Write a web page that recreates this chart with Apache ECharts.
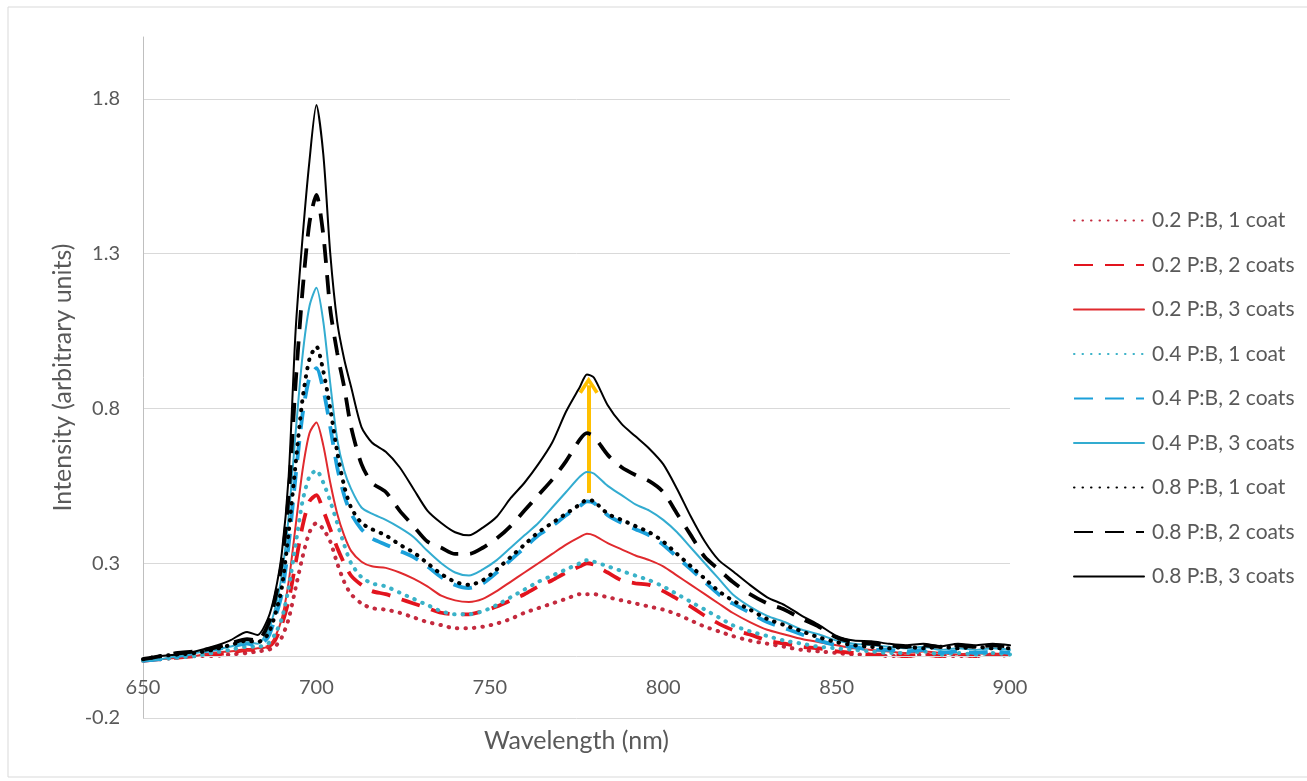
<!DOCTYPE html>
<html>
<head>
<meta charset="utf-8">
<script src="https://cdn.jsdelivr.net/npm/echarts@6/dist/echarts.min.js"></script>
<style>
html,body{margin:0;padding:0;background:#fff;}
#chart{width:1307px;height:781px;}
</style>
</head>
<body>
<div id="chart"></div>
<script>
// ---- data ----
const wavelength = [
  650,655,660,665,670,675,680,683,
  686,688,690,692,694,696,698,700,702,704,706,708,710,
  713,716,720,724,728,732,736,740,
  744,748,752,756,760,764,768,772,776,778,
  780,784,788,792,796,800,804,808,812,816,820,825,
  830,835,840,845,850,855,860,865,870,875,880,885,890,895,900
];
const s02c1 = [
  -0.015,-0.01,-0.005,0.0,0.0,0.005,0.01,0.015,
  0.02,0.03,0.06,0.12,0.22,0.32,0.4,0.43,0.41,0.37,0.3,0.24,0.2,
  0.17,0.155,0.15,0.14,0.125,0.11,0.1,0.09,
  0.09,0.095,0.105,0.12,0.14,0.155,0.17,0.185,0.2,0.2,
  0.2,0.19,0.18,0.17,0.16,0.15,0.135,0.115,0.095,0.08,0.065,0.05,
  0.04,0.03,0.02,0.015,0.01,0.005,0.005,0.0,0.0,0.005,0.0,0.0,0.0,0.005,0.0
];
const s02c2 = [
  -0.015,-0.01,-0.005,0.0,0.005,0.01,0.02,0.02,
  0.03,0.05,0.1,0.18,0.3,0.42,0.5,0.52,0.47,0.41,0.35,0.3,0.26,
  0.23,0.21,0.2,0.185,0.17,0.155,0.14,0.135,
  0.135,0.145,0.16,0.18,0.2,0.225,0.245,0.27,0.29,0.3,
  0.295,0.27,0.245,0.235,0.23,0.21,0.185,0.16,0.13,0.105,0.085,0.07,
  0.05,0.04,0.03,0.025,0.015,0.01,0.005,0.005,0.0,0.005,0.0,0.005,0.0,0.005,0.005
];
const s02c3 = [
  -0.015,-0.01,-0.005,0.0,0.01,0.015,0.02,0.025,
  0.03,0.06,0.12,0.24,0.42,0.6,0.72,0.755,0.68,0.56,0.46,0.39,0.34,
  0.305,0.29,0.285,0.27,0.25,0.225,0.195,0.18,
  0.175,0.185,0.21,0.24,0.27,0.3,0.33,0.36,0.385,0.395,
  0.39,0.365,0.345,0.325,0.31,0.29,0.26,0.23,0.2,0.17,0.14,0.11,
  0.085,0.07,0.055,0.045,0.035,0.025,0.02,0.015,0.01,0.015,0.01,0.005,0.01,0.005,0.005
];
const s04c1 = [
  -0.015,-0.01,-0.005,0.0,0.01,0.02,0.03,0.03,
  0.04,0.07,0.12,0.22,0.36,0.5,0.58,0.6,0.56,0.5,0.43,0.36,0.3,
  0.255,0.235,0.225,0.205,0.185,0.165,0.145,0.135,
  0.135,0.145,0.165,0.19,0.215,0.24,0.26,0.28,0.3,0.31,
  0.305,0.29,0.275,0.26,0.245,0.225,0.2,0.175,0.15,0.125,0.1,0.08,
  0.065,0.05,0.04,0.03,0.025,0.02,0.015,0.01,0.01,0.015,0.005,0.01,0.005,0.01,0.005
];
const s04c2 = [
  -0.015,-0.01,0.0,0.01,0.02,0.03,0.04,0.035,
  0.06,0.12,0.2,0.36,0.58,0.78,0.9,0.93,0.86,0.74,0.61,0.52,0.46,
  0.41,0.38,0.36,0.34,0.32,0.29,0.255,0.23,
  0.22,0.235,0.27,0.31,0.35,0.39,0.42,0.455,0.485,0.5,
  0.495,0.455,0.43,0.41,0.39,0.36,0.32,0.28,0.24,0.2,0.17,0.14,
  0.11,0.09,0.07,0.05,0.035,0.03,0.02,0.02,0.015,0.02,0.01,0.015,0.01,0.015,0.01
];
const s04c3 = [
  -0.015,-0.01,0.0,0.01,0.02,0.03,0.045,0.04,
  0.08,0.15,0.26,0.45,0.72,0.97,1.13,1.19,1.08,0.88,0.7,0.6,0.54,
  0.48,0.46,0.44,0.415,0.385,0.34,0.3,0.27,
  0.26,0.28,0.31,0.35,0.39,0.43,0.48,0.53,0.58,0.595,
  0.59,0.55,0.52,0.49,0.47,0.44,0.4,0.35,0.3,0.25,0.2,0.16,
  0.13,0.11,0.085,0.07,0.05,0.04,0.035,0.03,0.025,0.03,0.02,0.025,0.02,0.025,0.02
];
const s08c1 = [
  -0.01,0.0,0.005,0.01,0.02,0.035,0.05,0.045,
  0.07,0.13,0.22,0.4,0.62,0.83,0.96,1.0,0.92,0.8,0.66,0.55,0.48,
  0.43,0.41,0.39,0.36,0.335,0.3,0.265,0.24,
  0.23,0.245,0.28,0.32,0.36,0.4,0.43,0.46,0.49,0.505,
  0.5,0.46,0.44,0.42,0.4,0.37,0.33,0.29,0.25,0.21,0.18,0.15,
  0.12,0.1,0.08,0.06,0.045,0.035,0.03,0.025,0.03,0.025,0.03,0.025,0.03,0.025,0.025
];
const s08c2 = [
  -0.01,0.0,0.01,0.015,0.025,0.04,0.055,0.05,
  0.1,0.18,0.3,0.52,0.88,1.18,1.4,1.49,1.36,1.12,0.98,0.87,0.74,
  0.62,0.56,0.53,0.47,0.42,0.37,0.35,0.33,
  0.33,0.35,0.38,0.42,0.47,0.52,0.57,0.63,0.7,0.72,
  0.71,0.65,0.61,0.585,0.565,0.53,0.46,0.39,0.32,0.28,0.24,0.2,
  0.17,0.15,0.12,0.094,0.06,0.045,0.04,0.035,0.03,0.035,0.03,0.035,0.03,0.035,0.03
];
const s08c3 = [
  -0.01,0.0,0.005,0.015,0.03,0.05,0.078,0.068,
  0.12,0.2,0.33,0.58,1.05,1.35,1.6,1.78,1.62,1.3,1.08,0.96,0.87,
  0.74,0.69,0.66,0.61,0.54,0.47,0.43,0.4,
  0.39,0.415,0.45,0.51,0.56,0.62,0.69,0.79,0.87,0.91,
  0.9,0.81,0.75,0.71,0.67,0.62,0.54,0.45,0.37,0.31,0.275,0.23,
  0.19,0.165,0.13,0.1,0.065,0.05,0.048,0.04,0.035,0.04,0.032,0.04,0.035,0.04,0.035
];
const seriesNames = [
  '0.2 P:B, 1 coat','0.2 P:B, 2 coats','0.2 P:B, 3 coats',
  '0.4 P:B, 1 coat','0.4 P:B, 2 coats','0.4 P:B, 3 coats',
  '0.8 P:B, 1 coat','0.8 P:B, 2 coats','0.8 P:B, 3 coats'
];
const seriesValues = [s02c1,s02c2,s02c3,s04c1,s04c2,s04c3,s08c1,s08c2,s08c3];
const yTicks = [-0.2, 0.3, 0.8, 1.3, 1.8];
const xTicks = [650, 700, 750, 800, 850, 900];
const zeroLine = 0;
const arrowX = 778.5, arrowFrom = 0.527, arrowTo = 0.875;

// ---- styles ----
const colors = ['#C42A3E','#E2141E','#E02A2E','#3AB2C8','#1BA0DA','#33ACD0','#000000','#000000','#000000'];
const dotted = {type:[0.5,8], width:4, cap:'round'};
const dashed = {type:[19,12], width:3.8, cap:'butt'};
const solid  = {type:'solid', width:2, cap:'round'};
const lineTypes = [dotted,dashed,solid,dotted,dashed,solid,dotted,dashed,solid];
const FONT = 'Lato, "Open Sans", sans-serif';
const TXT = '#595959';

const series = seriesNames.map((name,k)=>({
  name, type:'line', symbol:'none', showSymbol:false, smooth:0.25,
  animation:false, z: 3+k,
  data: wavelength.map((x,i)=>[x, seriesValues[k][i]]),
  lineStyle: Object.assign({color:colors[k]}, lineTypes[k]),
  itemStyle:{color:colors[k]},
  emphasis:{disabled:true}
}));
// zero (horizontal axis) line
series.push({
  name:'zero', type:'line', data:[], z:1, animation:false, silent:true,
  markLine:{
    silent:true, animation:false, symbol:['none','none'],
    label:{show:false}, emphasis:{disabled:true},
    lineStyle:{color:'#d9d9d9', width:1, type:'solid'},
    data:[{yAxis:zeroLine}]
  }
});
// yellow arrow
series.push({
  name:'arrow', type:'line', data:[], z:30, animation:false, silent:true,
  markLine:{
    silent:true, animation:false,
    symbol:['none','path://M0,16 L11,0 L22,16 L18.5,18 L11,7 L3.5,18 Z'],
    symbolSize:[20,17],
    label:{show:false},
    lineStyle:{color:'#FFC000', width:4, type:'solid'},
    emphasis:{disabled:true},
    data:[[{coord:[arrowX,arrowFrom]},{coord:[arrowX,arrowTo]}]]
  }
});

const chart = echarts.init(document.getElementById('chart'), null, {renderer:'canvas'});
chart.setOption({
  backgroundColor:'#fff',
  textStyle:{fontFamily:FONT},
  graphic:[{type:'rect', shape:{x:8,y:7,width:1320,height:770},
            style:{fill:'none', stroke:'#d9d9d9', lineWidth:1}, silent:true}],
  grid:{left:143, right:297, top:37, bottom:63, containLabel:false, outerBoundsMode:'none'},
  legend:{
    orient:'vertical', left:1068, top:205,
    itemWidth:70, itemHeight:14, itemGap:23.5,
    data:seriesNames,
    itemStyle:{opacity:0, borderWidth:0},
    textStyle:{fontSize:21, color:TXT, fontFamily:FONT, padding:[0,0,0,3]},
    selectedMode:false
  },
  xAxis:{
    type:'value', min:650, max:900, interval:50,
    axisLine:{show:false, onZero:false},
    axisTick:{show:false},
    splitLine:{show:false},
    axisLabel:{fontSize:20, color:TXT, margin:-40, fontFamily:FONT, customValues:xTicks},
    name:'Wavelength (nm)', nameLocation:'middle', nameGap:10, nameMoveOverlap:false,
    nameTextStyle:{fontSize:25, color:TXT, fontFamily:FONT}
  },
  yAxis:{
    type:'value', min:-0.2, max:2.0,
    axisLine:{show:true, onZero:false, lineStyle:{color:'#bfbfbf', width:1}},
    axisTick:{show:false, customValues:yTicks},
    axisLabel:{fontSize:20, color:TXT, margin:23, fontFamily:FONT, customValues:yTicks,
               formatter:v=>v.toFixed(1)},
    splitLine:{show:true, lineStyle:{color:'#d9d9d9', width:1}},
    name:'Intensity (arbitrary units)', nameLocation:'middle', nameGap:68, nameMoveOverlap:false,
    nameTextStyle:{fontSize:25, color:TXT, fontFamily:FONT}
  },
  series
});
</script>
</body>
</html>
